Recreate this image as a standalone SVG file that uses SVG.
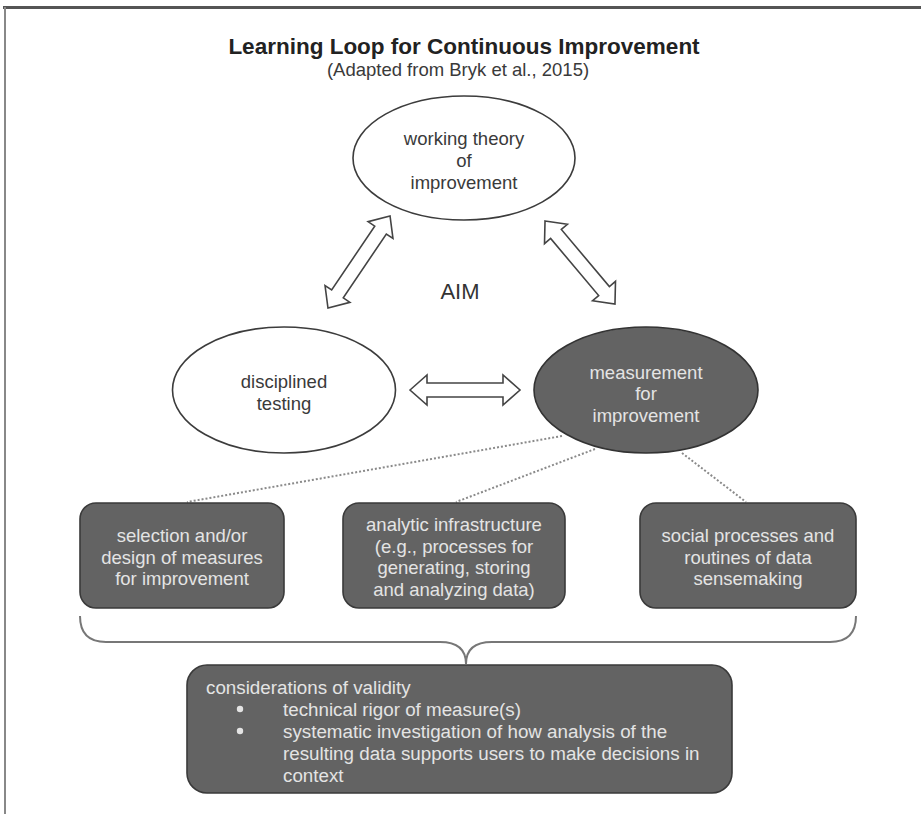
<svg xmlns="http://www.w3.org/2000/svg" width="921" height="814" viewBox="0 0 921 814">
<style>
text{font-family:"Liberation Sans",Arial,sans-serif;}
.t{font-size:18.5px;fill:#3a3a3a;text-anchor:middle;}
.tl{font-size:18.5px;fill:#e4e4e4;text-anchor:middle;}
.tv{font-size:18.8px;fill:#e4e4e4;}
.ew{fill:#fff;stroke:#3c3c3c;stroke-width:1.6;}
.ed{fill:#636363;stroke:#333;stroke-width:1.6;}
.box{fill:#636363;stroke:#3a3a3a;stroke-width:1.6;}
.arrow{fill:#fff;stroke:#444;stroke-width:1.6;stroke-linejoin:miter;}
.dot{fill:none;stroke:#8a8a8a;stroke-width:2;stroke-dasharray:2 2;}
.brace{fill:none;stroke:#777;stroke-width:2;}
</style>
<rect x="0" y="0" width="921" height="814" fill="#fff"/>
<g id="frame">
<line x1="3" y1="7.5" x2="921" y2="7.5" stroke="#555" stroke-width="3"/>
<line x1="5" y1="7" x2="5" y2="814" stroke="#888" stroke-width="2"/>
</g>
<g id="title">
<text x="464" y="54" text-anchor="middle" style="font-size:22.5px;font-weight:bold;fill:#222;">Learning Loop for Continuous Improvement</text>
<text x="458" y="76" class="t">(Adapted from Bryk et al., 2015)</text>
</g>
<g id="connectors">
<path class="arrow" transform="translate(359,262) rotate(-56)" d="M -55.5,0 L -38.5,-15 L -38.5,-7 L 38.5,-7 L 38.5,-15 L 55.5,0 L 38.5,15 L 38.5,7 L -38.5,7 L -38.5,15 Z"/>
<path class="arrow" transform="translate(580,262.5) rotate(49.9)" d="M -54.3,0 L -37.3,-15 L -37.3,-7 L 37.3,-7 L 37.3,-15 L 54.3,0 L 37.3,15 L 37.3,7 L -37.3,7 L -37.3,15 Z"/>
<path class="arrow" transform="translate(465,390)" d="M -55,0 L -38,-15 L -38,-7 L 38,-7 L 38,-15 L 55,0 L 38,15 L 38,7 L -38,7 L -38,15 Z"/>
<line class="dot" x1="562" y1="436" x2="187" y2="502"/>
<line class="dot" x1="595" y1="449" x2="456" y2="502"/>
<line class="dot" x1="682" y1="453" x2="746" y2="502"/>
<path class="brace" d="M 80,616 Q 80,642 106,642 L 440,642 Q 466,642 466,664 Q 466,642 492,642 L 830,642 Q 856,642 856,616"/>
</g>
<g id="aim">
<text x="460" y="299" style="font-size:22px;fill:#333;text-anchor:middle;">AIM</text>
</g>
<g id="theory">
<ellipse class="ew" cx="464" cy="158" rx="111" ry="62"/>
<text class="t" x="464" y="145">working theory</text>
<text class="t" x="464" y="167">of</text>
<text class="t" x="464" y="189">improvement</text>
</g>
<g id="testing">
<ellipse class="ew" cx="284" cy="390" rx="111.5" ry="63"/>
<text class="t" x="284" y="388">disciplined</text>
<text class="t" x="284" y="410">testing</text>
</g>
<g id="measurement">
<ellipse class="ed" cx="646" cy="390" rx="112" ry="63"/>
<text class="tl" x="646" y="378.5">measurement</text>
<text class="tl" x="646" y="400">for</text>
<text class="tl" x="646" y="421.5">improvement</text>
</g>
<g id="selection">
<rect class="box" x="80" y="503" width="204" height="105" rx="16"/>
<text class="tl" x="182" y="542">selection and/or</text>
<text class="tl" x="182" y="563.5">design of measures</text>
<text class="tl" x="182" y="585">for improvement</text>
</g>
<g id="infrastructure">
<rect class="box" x="343" y="503" width="222" height="105" rx="16"/>
<text class="tl" x="454" y="531">analytic infrastructure</text>
<text class="tl" x="454" y="552.5">(e.g., processes for</text>
<text class="tl" x="454" y="574">generating, storing</text>
<text class="tl" x="454" y="595.5">and analyzing data)</text>
</g>
<g id="social">
<rect class="box" x="640" y="503" width="216" height="105" rx="16"/>
<text class="tl" x="748" y="542">social processes and</text>
<text class="tl" x="748" y="563.5">routines of data</text>
<text class="tl" x="748" y="585">sensemaking</text>
</g>
<g id="validity">
<rect class="box" x="187" y="665" width="545" height="128" rx="20"/>
<text class="tv" x="206" y="694">considerations of validity</text>
<circle cx="240" cy="709" r="3.2" fill="#e4e4e4"/>
<circle cx="240" cy="731" r="3.2" fill="#e4e4e4"/>
<text class="tv" x="283" y="716">technical rigor of measure(s)</text>
<text class="tv" x="283" y="738">systematic investigation of how analysis of the</text>
<text class="tv" x="283" y="760">resulting data supports users to make decisions in</text>
<text class="tv" x="283" y="782">context</text>
</g>
</svg>
